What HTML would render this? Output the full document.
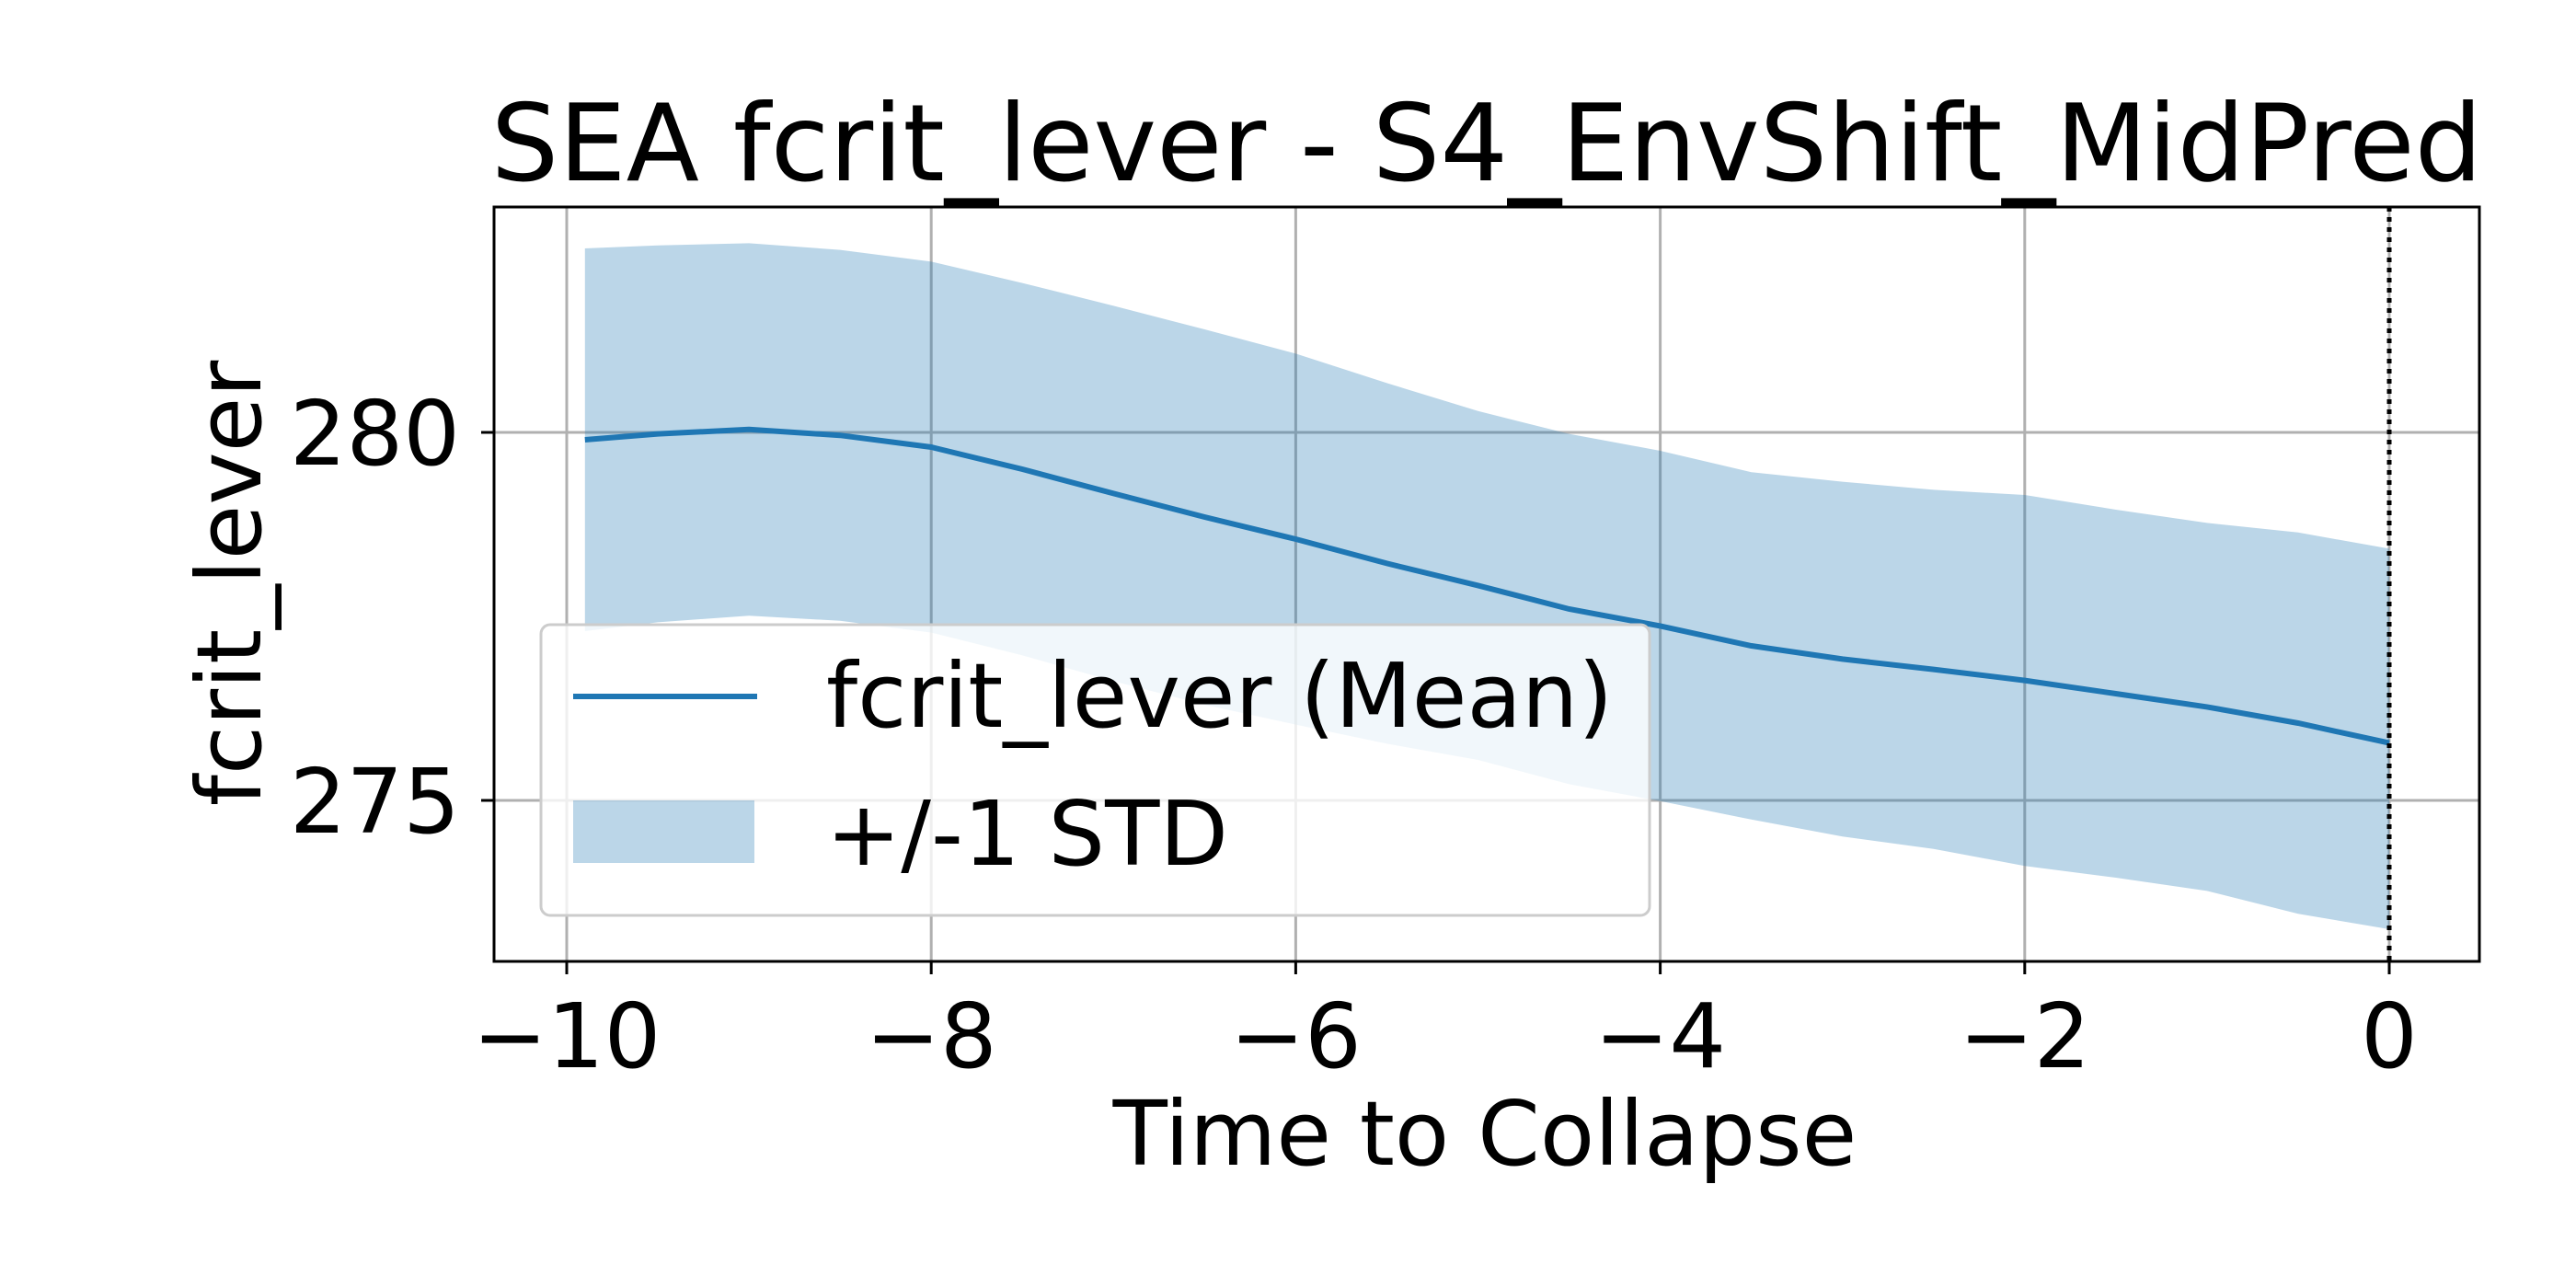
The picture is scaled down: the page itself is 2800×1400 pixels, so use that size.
<!DOCTYPE html>
<html><head><meta charset="utf-8"><style>
html,body{margin:0;padding:0;background:#fff}
svg{display:block;font-family:"DejaVu Sans","Liberation Sans",sans-serif}
</style></head><body>
<svg id="chart" width="2800" height="1400" viewBox="0 0 2800 1400">
<rect width="2800" height="1400" fill="#fff"/>
<g id="grid"></g>
<g id="plot"></g>
<rect x="537" y="225" width="2158" height="820" fill="none" stroke="#000" stroke-width="3"/>
<g id="ticks"></g>
<text x="1616" y="196" font-size="116" text-anchor="middle">SEA fcrit_lever - S4_EnvShift_MidPred</text>
<text x="1614" y="1266" font-size="97" text-anchor="middle">Time to Collapse</text>
<text x="0" y="0" font-size="97" text-anchor="middle" transform="translate(283,634) rotate(-90)">fcrit_lever</text>
<g>
<rect x="588" y="679" width="1205" height="316" rx="10" fill="#fff" fill-opacity="0.8" stroke="#ccc" stroke-width="3"/>
<line x1="623" y1="757" x2="823" y2="757" stroke="#1f77b4" stroke-width="6"/>
<text x="898" y="790" font-size="97">fcrit_lever (Mean)</text>
<rect x="623" y="870" width="197" height="68" fill="#1f77b4" fill-opacity="0.3"/>
<text x="898" y="940" font-size="97">+/-1 STD</text>
</g>
</svg>
<script>
const times=[-9.9,-9.5,-9,-8.5,-8,-7.5,-7,-6.5,-6,-5.5,-5,-4.5,-4,-3.5,-3,-2.5,-2,-1.5,-1,-0.5,0];
const meanVals=[279.9,279.98,280.04,279.96,279.8,279.5,279.17,278.85,278.55,278.22,277.92,277.6,277.37,277.1,276.92,276.78,276.63,276.45,276.27,276.05,275.78];
const upperVals=[282.5,282.54,282.57,282.48,282.32,282.03,281.72,281.4,281.07,280.67,280.29,279.98,279.75,279.46,279.33,279.22,279.15,278.95,278.77,278.64,278.42];
const lowerVals=[277.3,277.42,277.51,277.44,277.28,276.97,276.62,276.3,276.03,275.77,275.55,275.22,274.99,274.74,274.51,274.34,274.11,273.95,273.77,273.46,273.25];
const xTicks=[-10,-8,-6,-4,-2,0];
const xTickLabels=["\u221210","\u22128","\u22126","\u22124","\u22122","0"];
const yTicks=[275,280];
const yTickLabels=["275","280"];
const NS="http://www.w3.org/2000/svg";
function sx(v){return 2597+(v)*198.1;}
function sy(v){return 470-(v-280)*80;}
function mk(tag,attrs,parent){const e=document.createElementNS(NS,tag);for(const k in attrs)e.setAttribute(k,attrs[k]);parent.appendChild(e);return e;}
const grid=document.getElementById('grid'),plot=document.getElementById('plot'),ticks=document.getElementById('ticks');
xTicks.forEach((t,i)=>{
 const g=mk('line',{x1:sx(t),x2:sx(t),y1:225,y2:1045,stroke:'#b0b0b0','stroke-width':3},grid);
 
 
 const tk=mk('line',{x1:sx(t),x2:sx(t),y1:1045,y2:1059,stroke:'#000','stroke-width':3},ticks);
 
 
 const tx=mk('text',{x:sx(t),y:1160,'font-size':97,'text-anchor':'middle'},ticks);
 tx.textContent=xTickLabels[i];
 
 
});
yTicks.forEach((t,i)=>{
 const g=mk('line',{x1:537,x2:2695,y1:sy(t),y2:sy(t),stroke:'#b0b0b0','stroke-width':3},grid);
 
 
 const tk=mk('line',{x1:523,x2:537,y1:sy(t),y2:sy(t),stroke:'#000','stroke-width':3},ticks);
 
 
 const tx=mk('text',{x:500,y:sy(t)+35,'font-size':97,'text-anchor':'end'},ticks);
 tx.textContent=yTickLabels[i];
 
 
});
let d='M'+times.map((t,i)=>sx(t)+','+sy(upperVals[i])).join('L');
for(let i=times.length-1;i>=0;i--)d+='L'+sx(times[i])+','+sy(lowerVals[i]);
d+='Z';
const band=mk('path',{d:d,fill:'#1f77b4','fill-opacity':0.3},plot);


const line=mk('polyline',{points:times.map((t,i)=>sx(t)+','+sy(meanVals[i])).join(' '),fill:'none',stroke:'#1f77b4','stroke-width':6},plot);


const vl=mk('line',{x1:sx(0),x2:sx(0),y1:225,y2:1045,stroke:'#000','stroke-width':5,'stroke-dasharray':'5,6'},plot);


</script>
</body></html>
